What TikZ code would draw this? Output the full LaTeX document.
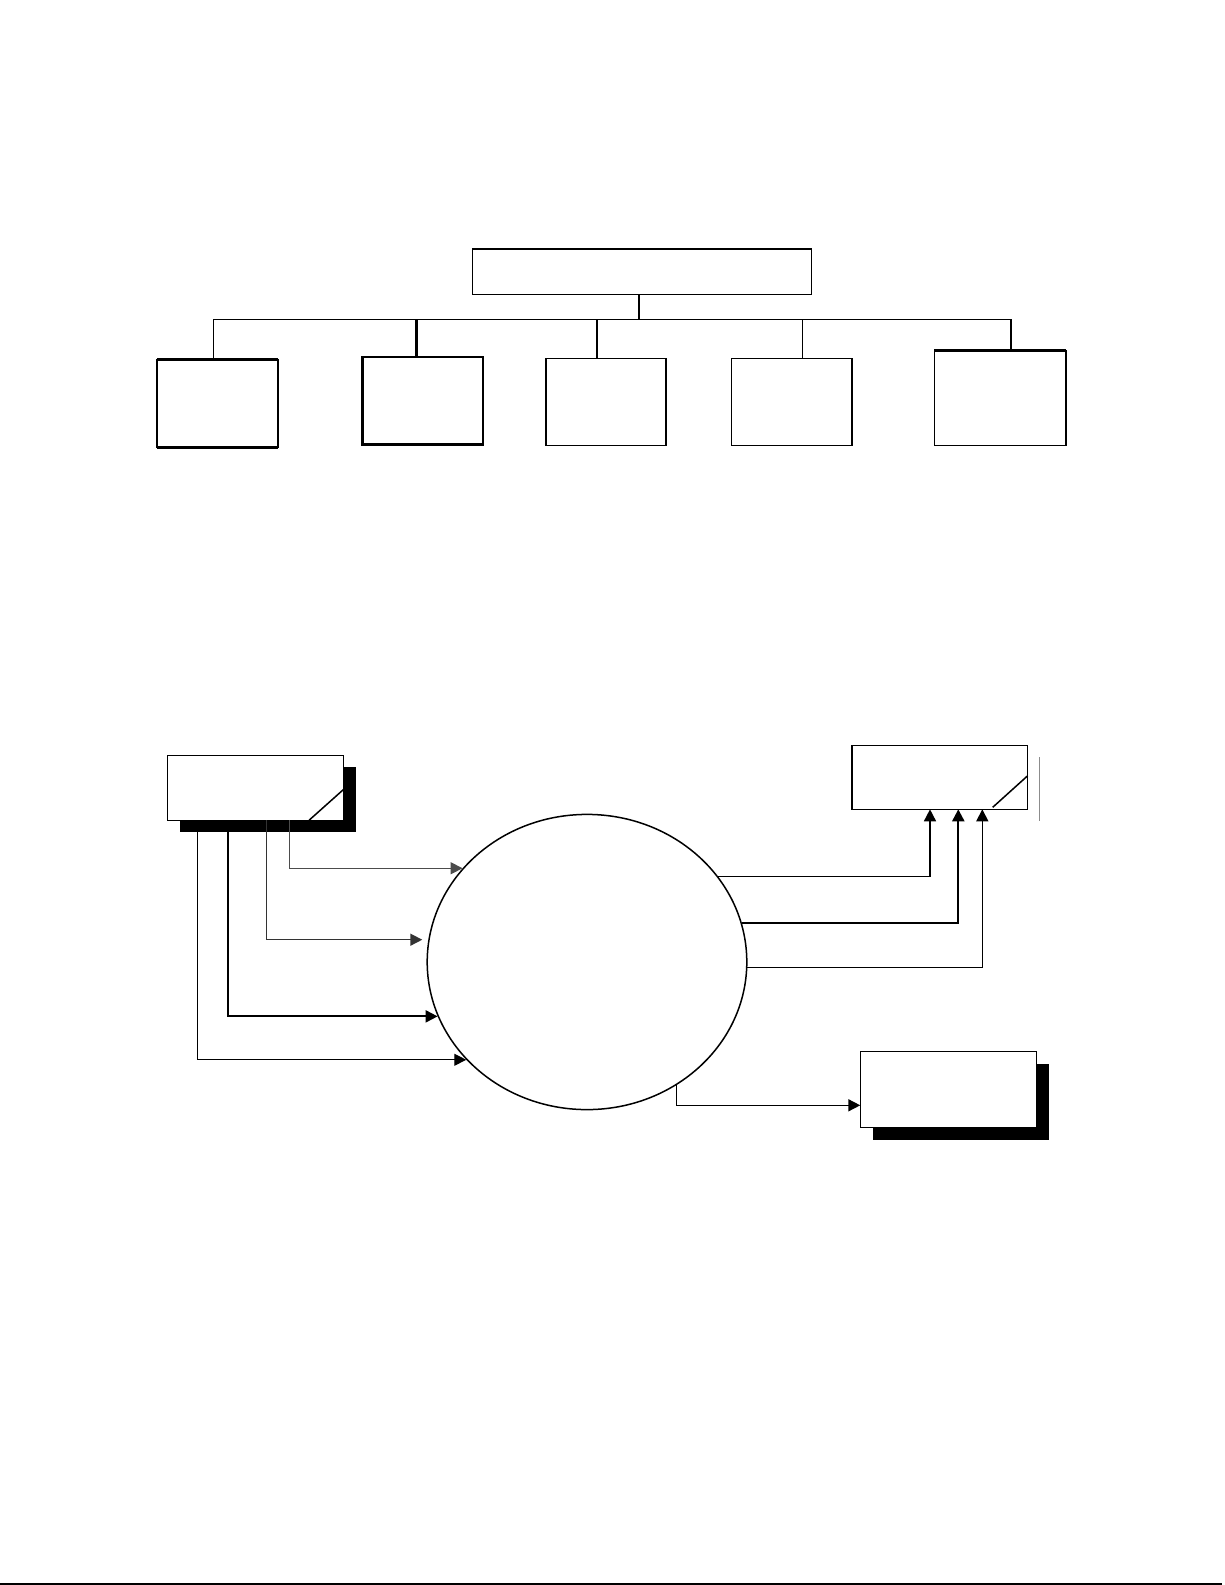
\documentclass[tikz,border=0pt]{standalone}
\usetikzlibrary{fit,shapes.geometric,arrows.meta,calc,shadows}
\begin{document}
\begin{tikzpicture}[x=0.5pt,y=-0.5pt,
  box/.style={draw, line width=0.75pt, inner sep=0pt, outer sep=0pt, fill=white},
  ent/.style={box, general shadow={fill=black, shadow xshift=6.3pt, shadow yshift=-6pt}},
  link/.style={line width=0.75pt},
  thk/.style={line width=1.3pt},
  arr/.style={link, -{Triangle[length=6pt,width=6pt]}},
  ]
\fill[white] (0,0) rectangle (1225,1585);
\useasboundingbox (0,0) rectangle (1225,1585);

% ---------- top hierarchy ----------
\node[box, fit={(472.5,249)(811.5,294.3)}] (top) {};
\draw[thk] (top.north west) -- (top.north east);

\coordinate (s0) at (638.8,319.3);
\coordinate (s1) at (213.7,319.3);
\coordinate (s2) at (416.4,319.3);
\coordinate (s3) at (596.8,319.3);
\coordinate (s4) at (802.5,319.3);
\coordinate (s5) at (1011.1,319.3);

\node[box, fit={(156.8,359.3)(277.9,447.3)}] (c1) {};
\node[box, line width=1.2pt, fit={(362.4,356.7)(482.9,444.3)}] (c2) {};
\node[box, fit={(545.9,358.3)(665.8,445.7)}] (c3) {};
\node[box, fit={(731.7,358.3)(852.2,445.7)}] (c4) {};
\node[box, fit={(934.4,350.7)(1066.2,445.7)}] (c5) {};
\draw[thk] (c1.north west) -- (c1.north east);
\draw[thk] (c1.south west) -- (c1.south east);
\draw[thk] (c5.north west) -- (c5.north east);

\draw[link] (s0 |- top.south) -- (s0);
\draw[link] (s1) -- (s5);
\draw[link] (s1) -- (s1 |- c1.north);
\draw[thk] (s2) -- (s2 |- c2.north);
\draw[link] (s3) -- (s3 |- c3.north);
\draw[link] (s4) -- (s4 |- c4.north);
\draw[thk] (s5) -- (s5 |- c5.north);

% ---------- data flow diagram ----------
\node[draw, ellipse, line width=0.75pt, inner sep=0pt, minimum width=159.8pt, minimum height=147.6pt] (E) at (587,962) {};

\node[ent, fit={(167.7,755.3)(343.7,820.3)}] (L) {};
\draw[link] ($(L.south east)+(-34.7,0)$) -- ($(L.south east)+(0,-31)$);
\coordinate (v1) at ($(L.south west)+(121.6,0)$);
\coordinate (v2) at ($(L.south west)+(99,0)$);
\coordinate (v3) at ($(L.south west)+(60,0)$);
\coordinate (v4) at ($(L.south west)+(30,0)$);
\draw[arr, draw=black!70] (v1) |- (E.143.2);
\draw[arr, draw=black!80, shorten >=3pt] (v2) |- (E.172.8);
\draw[arr, line width=1pt] (v3) |- (E.200.7);
\draw[arr, line width=0.55pt] (v4) |- (E.219.4);

\node[box, fit={(852,745.3)(1027.7,809.3)}] (R) {};
\draw[link] ($(R.south east)+(-35,-2)$) -- ($(R.south east)+(0,-33.6)$);
\draw[black!45, line width=0.45pt] ($(R.north east)+(11.6,12)$) -- ($(R.south east)+(11.6,11.4)$);
\coordinate (x1) at (930,0);
\coordinate (x2) at (958.3,0);
\coordinate (x3) at (982.3,0);
\draw[arr] (E.33) -| (x1 |- R.south);
\draw[arr, line width=1.1pt] (E.14.6) -| (x2 |- R.south);
\draw[arr] (E.358.1) -| (x3 |- R.south);

\node[ent, fit={(860.3,1051.7)(1036.7,1127.7)}] (B) {};
\coordinate (y5) at (0,1105.3);
\draw[arr] (E.306.55) |- (B.west |- y5);

% ---------- page rule ----------
\coordinate (p0) at (0,1584);
\coordinate (p1) at (1222,1584);
\draw[line width=1pt] (p0) -- (p1);
\end{tikzpicture}
\end{document}
